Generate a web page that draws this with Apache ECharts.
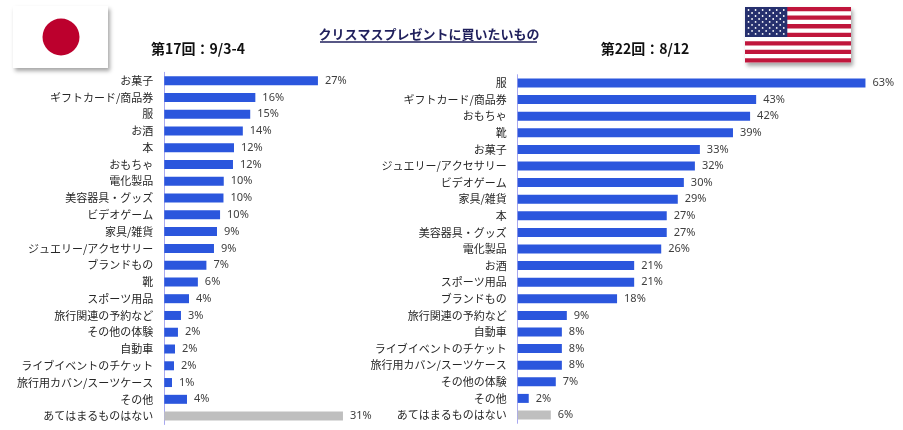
<!DOCTYPE html>
<html><head><meta charset="utf-8">
<script src="https://cdn.jsdelivr.net/npm/echarts@6/dist/echarts.min.js"></script>
<style>html,body{margin:0;padding:0;background:#fff}#c{width:903px;height:430px}</style>
</head><body><div id="c"></div>
<script>
const titleText = 'クリスマスプレゼントに買いたいもの';
const leftTitle = '第17回：9/3-4';
const rightTitle = '第22回：8/12';

const jpCategories = ['お菓子','ギフトカード/商品券','服','お酒','本','おもちゃ','電化製品','美容器具・グッズ','ビデオゲーム','家具/雑貨','ジュエリー/アクセサリー','ブランドもの','靴','スポーツ用品','旅行関連の予約など','その他の体験','自動車','ライブイベントのチケット','旅行用カバン/スーツケース','その他','あてはまるものはない'];
const jpValues = [27.0,16.0,15.1,13.8,12.25,12.07,10.45,10.4,9.8,9.26,8.73,7.4,5.9,4.34,2.93,2.4,1.88,1.7,1.35,3.99,31.4];

const usCategories = ['服','ギフトカード/商品券','おもちゃ','靴','お菓子','ジュエリー/アクセサリー','ビデオゲーム','家具/雑貨','本','美容器具・グッズ','電化製品','お酒','スポーツ用品','ブランドもの','旅行関連の予約など','自動車','ライブイベントのチケット','旅行用カバン/スーツケース','その他の体験','その他','あてはまるものはない'];
const usValues = [63.0,43.2,42.1,39.0,33.0,32.1,30.1,29.0,27.0,27.0,26.0,21.1,21.1,18.0,8.9,8.0,8.0,8.0,6.9,2.0,6.0];

const noneLabel = 'あてはまるものはない';
const BLUE = '#2b56dd', GRAY = '#bfbfbf';

function toData(cats, vals){
  return vals.map((v,i)=>({value:v, itemStyle:{color: cats[i]===noneLabel ? GRAY : BLUE}}));
}

const chart = echarts.init(document.getElementById('c'));

const graphics = [];
// Japan flag
graphics.push({type:'rect', shape:{x:13,y:6,width:95,height:62}, style:{fill:'#fff', shadowColor:'rgba(0,0,0,0.35)', shadowBlur:4, shadowOffsetX:2, shadowOffsetY:3}, z:10});
graphics.push({type:'circle', shape:{cx:61,cy:37,r:18.5}, style:{fill:'#bc002d'}, z:11});
// US flag
const fx=745, fy=7, fw=106, fh=55.6, sh=fh/13;
graphics.push({type:'rect', shape:{x:fx,y:fy,width:fw,height:fh}, style:{fill:'#fff', shadowColor:'rgba(0,0,0,0.35)', shadowBlur:4, shadowOffsetX:2, shadowOffsetY:3}, z:10});
for(let i=0;i<13;i+=2){
  graphics.push({type:'rect', shape:{x:fx,y:fy+i*sh,width:fw,height:sh}, style:{fill:'#c0163c'}, z:11});
}
const cw=42.3, ch=sh*7;
graphics.push({type:'rect', shape:{x:fx,y:fy,width:cw,height:ch}, style:{fill:'#26306e'}, z:12});
for(let r=0;r<9;r++){
  const n = r%2===0 ? 6 : 5;
  for(let j=0;j<n;j++){
    const sx = fx + cw*((r%2===0 ? 2*j+1 : 2*j+2)/12);
    const sy = fy + ch*(r+1)/10;
    graphics.push({type:'circle', shape:{cx:sx,cy:sy,r:0.9}, style:{fill:'#fff'}, z:13});
  }
}
// title underline
graphics.push({type:'line', shape:{x1:320,y1:42,x2:537,y2:42}, style:{stroke:'#1f1f5c', lineWidth:1.3}, z:10});

const labelCommon = {show:true, position:'right', distance:7, fontSize:11, color:'#404040', fontFamily:'Noto Sans', formatter: p => Math.round(p.value)+'%'};
const axisLabelCommon = {fontSize:11, color:'#262626', fontFamily:'Noto Sans CJK JP', margin:11};

chart.setOption({
  animation:false,
  title:[
    {text:titleText, left:424, top:23, textAlign:'center', textStyle:{fontSize:13, fontWeight:'bold', color:'#1f1f5c', fontFamily:'Noto Sans CJK JP'}},
    {text:leftTitle, left:193, top:37, textAlign:'center', textStyle:{fontSize:14, fontWeight:'bold', color:'#111', fontFamily:'Noto Sans CJK JP'}},
    {text:rightTitle, left:640, top:37, textAlign:'center', textStyle:{fontSize:14, fontWeight:'bold', color:'#111', fontFamily:'Noto Sans CJK JP'}}
  ],
  graphic: graphics,
  grid:[
    {left:164.3, top:72.3, width:40*5.69, height:21*16.77},
    {left:517.7, top:74.7, width:65*5.52, height:21*16.6}
  ],
  xAxis:[
    {type:'value', gridIndex:0, min:0, max:40, show:false},
    {type:'value', gridIndex:1, min:0, max:65, show:false}
  ],
  yAxis:[
    {type:'category', gridIndex:0, data:jpCategories, inverse:true, axisTick:{show:false}, axisLine:{lineStyle:{color:'#a8a8f0'}}, axisLabel:axisLabelCommon},
    {type:'category', gridIndex:1, data:usCategories, inverse:true, axisTick:{show:false}, axisLine:{lineStyle:{color:'#a8a8f0'}}, axisLabel:axisLabelCommon}
  ],
  series:[
    {type:'bar', xAxisIndex:0, yAxisIndex:0, data:toData(jpCategories,jpValues), barWidth:9, label:labelCommon},
    {type:'bar', xAxisIndex:1, yAxisIndex:1, data:toData(usCategories,usValues), barWidth:9, label:labelCommon}
  ]
});
</script></body></html>
